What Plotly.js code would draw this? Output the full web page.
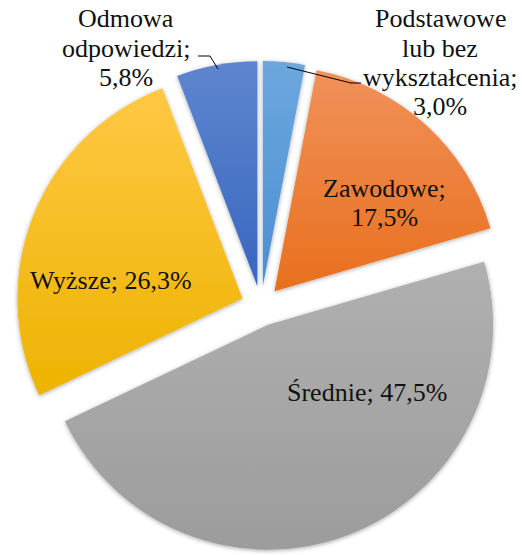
<!DOCTYPE html>
<html><head><meta charset="utf-8">
<script src="https://cdn.plot.ly/plotly-3.0.1.min.js"></script>
<style>html,body{margin:0;padding:0;background:#fff}</style>
</head><body>
<div id="chart" style="width:522px;height:555px"></div>
<script>
// ---- data ----
const categories = ["Podstawowe lub bez wykształcenia", "Zawodowe", "Średnie", "Wyższe", "Odmowa odpowiedzi"];
const values = [3.0, 17.5, 47.5, 26.3, 5.8];
const baseColors = ["#5B9BD5", "#ED7D31", "#A5A5A5", "#FFC000", "#4472C4"];
const topColors = ["#6DA7DE", "#F1915A", "#B0B0B0", "#FFC845", "#5E86CF"];
const bottomColors = ["#4A8FD3", "#E86F1D", "#9C9C9C", "#EDB300", "#3866BF"];
const wordsPerLine = [[1, 2, 1, 1], [1, 1], [2], [2], [1, 1, 1]];
// ---- layout helpers (pixel positions of label centres) ----
const labelPos = [[440, 19], [384, 188], [367, 392], [111, 280], [126, 19]];
const lineGap = 29;
const W = 522, H = 555;
const px = x => x / W, py = y => 1 - y / H;

function fmt(v) { return v.toFixed(1).replace(".", ",") + "%"; }
function splitLines(text, counts) {
  const words = text.split(" ");
  const lines = []; let k = 0;
  counts.forEach(c => { lines.push(words.slice(k, k + c).join(" ")); k += c; });
  return lines;
}

const annotations = [];
categories.forEach((c, i) => {
  const lines = splitLines(c + "; " + fmt(values[i]), wordsPerLine[i]);
  lines.forEach((ln, j) => {
    annotations.push({
      xref: "paper", yref: "paper", x: px(labelPos[i][0]), y: py(labelPos[i][1] + j * lineGap),
      text: ln, showarrow: false, xanchor: "center", yanchor: "middle",
      font: {family: "Liberation Serif, serif", size: 26, color: "#111"}
    });
  });
});

const leader = pts => "M " + pts.map(p => px(p[0]) + "," + py(p[1])).join(" L ");
const shapes = [
  {type: "path", xref: "paper", yref: "paper", path: leader([[287, 67], [351, 83], [361, 83]]), line: {color: "#000", width: 1}},
  {type: "path", xref: "paper", yref: "paper", path: leader([[198, 56], [210, 56], [218, 69]]), line: {color: "#000", width: 1}}
];

const cx = 261, cyPix = 306, halfBox = 245;
const trace = {
  type: "pie", labels: categories, values: values, sort: false, direction: "clockwise", rotation: 0,
  pull: values.map(() => 0.089), textinfo: "none", hoverinfo: "none",
  marker: {colors: baseColors, line: {width: 0}},
  domain: {x: [px(cx - halfBox), px(cx + halfBox)], y: [py(cyPix + halfBox), py(cyPix - halfBox)]}
};
const layout = {
  width: W, height: H, margin: {l: 0, r: 0, t: 0, b: 0}, showlegend: false,
  paper_bgcolor: "#fff", annotations: annotations, shapes: shapes
};
Plotly.newPlot("chart", [trace], layout, {staticPlot: true}).then(gd => {
  const svg = gd.querySelector("svg.main-svg");
  const NS = "http://www.w3.org/2000/svg";
  let defs = svg.querySelector("defs");
  if (!defs) { defs = document.createElementNS(NS, "defs"); svg.insertBefore(defs, svg.firstChild); }
  categories.forEach((c, i) => {
    const g = document.createElementNS(NS, "linearGradient");
    g.setAttribute("id", "sliceGrad" + i);
    g.setAttribute("x1", "0"); g.setAttribute("y1", "0"); g.setAttribute("x2", "0"); g.setAttribute("y2", "1");
    [[0, topColors[i]], [1, bottomColors[i]]].forEach(([o, col]) => {
      const s = document.createElementNS(NS, "stop");
      s.setAttribute("offset", o); s.setAttribute("stop-color", col);
      g.appendChild(s);
    });
    defs.appendChild(g);
  });
  const f = document.createElementNS(NS, "filter");
  f.setAttribute("id", "sliceShadow"); f.setAttribute("x", "-10%"); f.setAttribute("y", "-10%");
  f.setAttribute("width", "120%"); f.setAttribute("height", "120%");
  const ds = document.createElementNS(NS, "feDropShadow");
  ds.setAttribute("dx", "0"); ds.setAttribute("dy", "1"); ds.setAttribute("stdDeviation", "2");
  ds.setAttribute("flood-color", "#000"); ds.setAttribute("flood-opacity", "0.35");
  f.appendChild(ds); defs.appendChild(f);
  gd.querySelectorAll("g.slice path.surface").forEach((p, i) => {
    p.style.fill = "url(#sliceGrad" + i + ")";
    p.setAttribute("filter", "url(#sliceShadow)");
  });
});
</script>
</body></html>
